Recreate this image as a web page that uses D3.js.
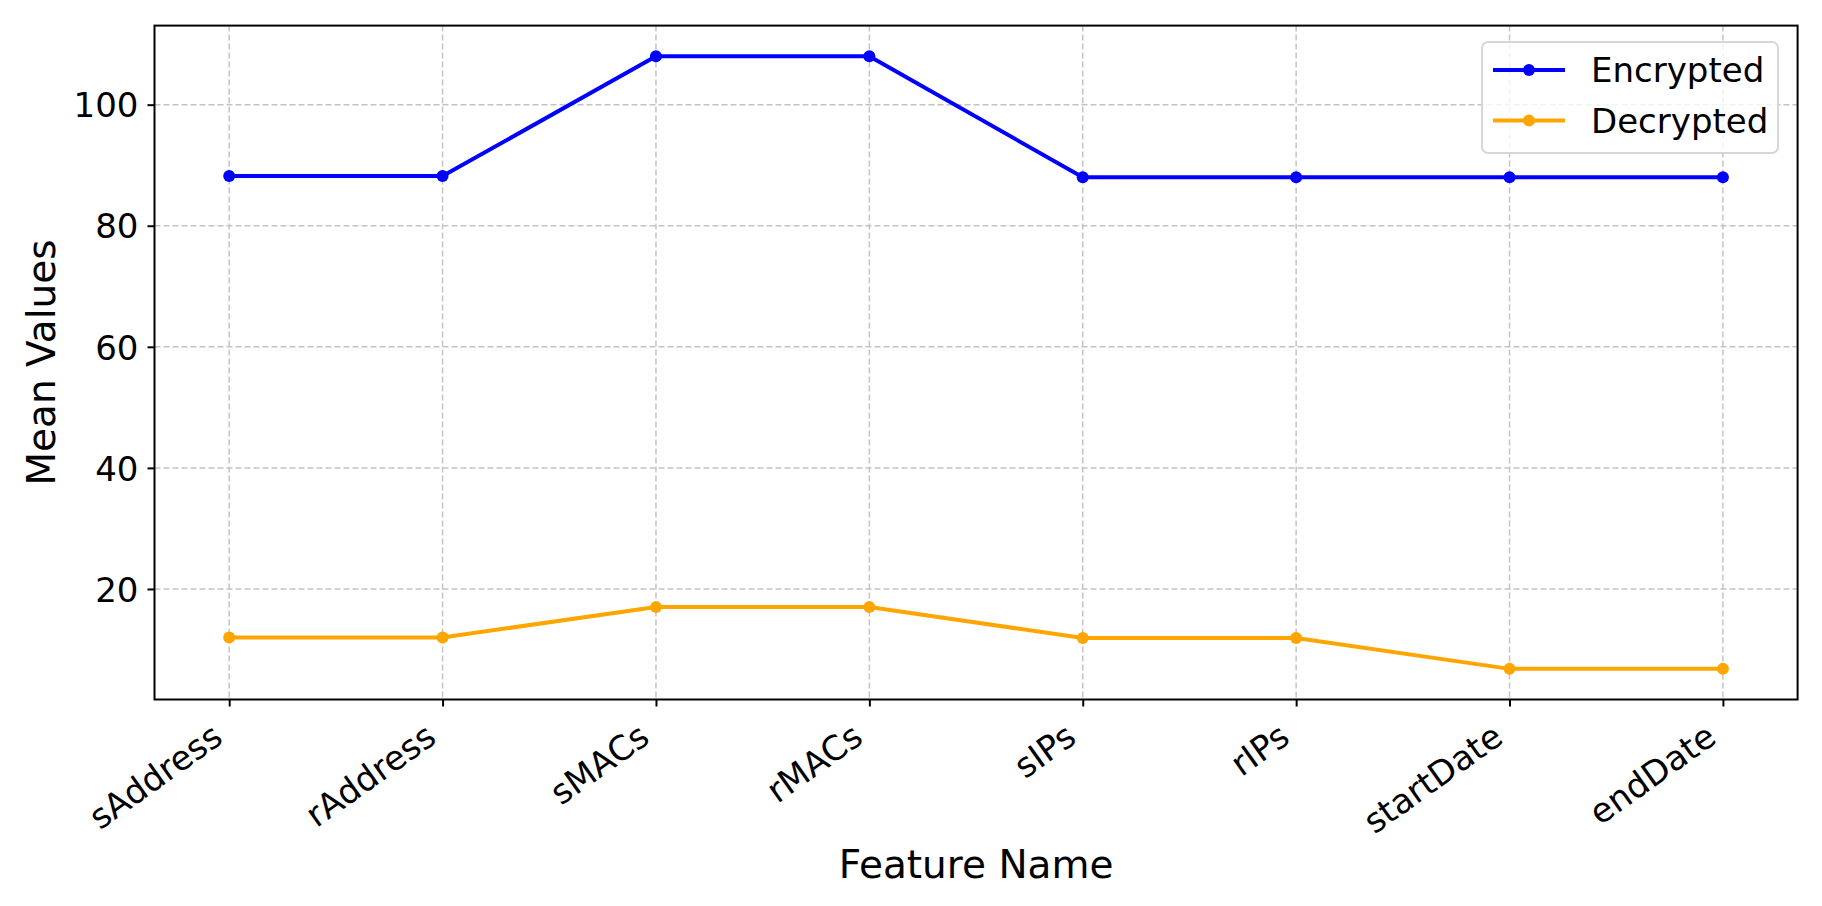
<!DOCTYPE html>
<html>
<head>
<meta charset="utf-8">
<script src="https://cdn.jsdelivr.net/npm/d3@7"></script>
<style>
  body { margin: 0; background: #fff; }
  svg { display: block; font-family: "DejaVu Sans", sans-serif; }
</style>
</head>
<body>
<svg id="svg"></svg>
<script>
// data
const features = ["sAddress", "rAddress", "sMACs", "rMACs", "sIPs", "rIPs", "startDate", "endDate"];
const encrypted = [88.2, 88.2, 108.0, 108.0, 88.0, 88.0, 88.0, 88.0];
const decrypted = [12.0, 12.0, 17.0, 17.0, 11.9, 11.9, 6.8, 6.8];
const yTicks = [20, 40, 60, 80, 100];
const seriesNames = ["Encrypted", "Decrypted"];
const seriesColors = ["#0000ff", "#ffa500"];

const width = 1822;
const height = 906;

const margin = {
    top: 25.6,
    left: 154.5,
    bottom: 206.5,
    right: 24.4,
};

const svg = d3.select("#svg").attr("width", width).attr("height", height);

const series = seriesNames.map((name, i) => ({
    name: name,
    color: seriesColors[i],
    values: i === 0 ? encrypted : decrypted,
}));

// matplotlib style 5% padding around the data
let allValues = encrypted.concat(decrypted);
let yMin = d3.min(allValues);
let yMax = d3.max(allValues);
let pad = (yMax - yMin) * 0.05;

const x = d3
    .scalePoint()
    .domain(features)
    .range([margin.left, width - margin.right])
    .padding(0.35);

const y = d3
    .scaleLinear()
    .domain([yMin - pad, yMax + pad])
    .range([height - margin.bottom, margin.top]);

// grid
let gGrid = svg.append("g").attr("class", "grid");

gGrid
    .selectAll("line.gx")
    .data(features)
    .join("line")
    .attr("class", "gx")
    .attr("x1", (d) => x(d))
    .attr("x2", (d) => x(d))
    .attr("y1", margin.top)
    .attr("y2", height - margin.bottom);

gGrid
    .selectAll("line.gy")
    .data(yTicks)
    .join("line")
    .attr("class", "gy")
    .attr("x1", margin.left)
    .attr("x2", width - margin.right)
    .attr("y1", (d) => y(d))
    .attr("y2", (d) => y(d));

gGrid
    .selectAll("line")
    .attr("stroke", "#c4c4c4")
    .attr("stroke-width", 1.5)
    .attr("stroke-dasharray", "6,3");

// axes
const xAxis = d3.axisBottom(x).tickSizeOuter(0).tickSize(7);
const yAxis = d3.axisLeft(y).tickValues(yTicks).tickSizeOuter(0).tickSize(7);

let gX = svg
    .append("g")
    .attr("transform", `translate(0,${height - margin.bottom})`)
    .call(xAxis);

gX.select(".domain").remove();
gX.selectAll(".tick line").attr("stroke", "#000").attr("stroke-width", 2);
gX.selectAll(".tick text")
    .attr("font-size", 34)
    .attr("font-family", "DejaVu Sans")
    .attr("fill", "#000")
    .attr("text-anchor", "end")
    .attr("y", 0)
    .attr("dy", 0)
    .attr("transform", "translate(-5,42) rotate(-35.5)");

let gY = svg
    .append("g")
    .attr("transform", `translate(${margin.left},0)`)
    .call(yAxis);

gY.select(".domain").remove();
gY.selectAll(".tick line").attr("stroke", "#000").attr("stroke-width", 2);
gY.selectAll(".tick text")
    .attr("font-size", 34)
    .attr("font-family", "DejaVu Sans")
    .attr("fill", "#000")
    .attr("x", -16)
    .attr("dy", "0.36em");

// frame
svg.append("rect")
    .attr("x", margin.left)
    .attr("y", margin.top)
    .attr("width", width - margin.left - margin.right)
    .attr("height", height - margin.top - margin.bottom)
    .attr("fill", "none")
    .attr("stroke", "#000")
    .attr("stroke-width", 2);

// lines + markers
const line = d3
    .line()
    .x((d, i) => x(features[i]))
    .y((d) => y(d));

let gLines = svg.append("g").attr("class", "lines");

series.forEach((s) => {
    gLines
        .append("path")
        .attr("d", line(s.values))
        .attr("fill", "none")
        .attr("stroke", s.color)
        .attr("stroke-width", 4);

    gLines
        .append("g")
        .selectAll("circle")
        .data(s.values)
        .join("circle")
        .attr("cx", (d, i) => x(features[i]))
        .attr("cy", (d) => y(d))
        .attr("r", 6)
        .attr("fill", s.color);
});

// axis labels
svg.append("text")
    .attr("x", (margin.left + width - margin.right) / 2)
    .attr("y", 878)
    .attr("text-anchor", "middle")
    .attr("font-size", 39)
    .text("Feature Name");

svg.append("text")
    .attr("transform", `translate(55,${(margin.top + height - margin.bottom) / 2}) rotate(-90)`)
    .attr("text-anchor", "middle")
    .attr("font-size", 39)
    .text("Mean Values");

// legend
let gLegend = svg.append("g").attr("transform", "translate(1482,42)");

gLegend
    .append("rect")
    .attr("width", 296)
    .attr("height", 111)
    .attr("rx", 6)
    .attr("fill", "#fff")
    .attr("fill-opacity", 0.8)
    .attr("stroke", "#d6d6d6")
    .attr("stroke-width", 2);

series.forEach((s, i) => {
    let row = gLegend.append("g").attr("transform", `translate(0,${28 + i * 50.5})`);
    row.append("line")
        .attr("x1", 11)
        .attr("x2", 83)
        .attr("stroke", s.color)
        .attr("stroke-width", 4);
    row.append("circle")
        .attr("cx", 47)
        .attr("r", 6)
        .attr("fill", s.color);
    row.append("text")
        .attr("x", 109)
        .attr("dy", "0.36em")
        .attr("font-size", 34)
        .text(s.name);
});
</script>
</body>
</html>
